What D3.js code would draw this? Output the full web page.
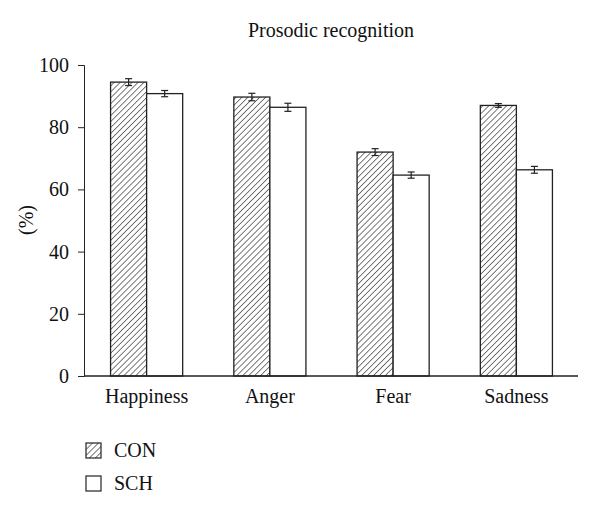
<!DOCTYPE html>
<html>
<head>
<meta charset="utf-8">
<script src="https://cdn.jsdelivr.net/npm/d3@7"></script>
<style>
  body { margin: 0; background: #fff; }
  text { font-family: "Liberation Serif", "DejaVu Serif", serif; fill: #111; }
</style>
</head>
<body>
<div id="chart"></div>
<script>
var width = 600;
var height = 515;

// data
var emotions = ['Happiness', 'Anger', 'Fear', 'Sadness'];
var groups = ['CON', 'SCH'];
var con_vals = [94.5, 89.7, 72.0, 87.0];
var sch_vals = [90.8, 86.4, 64.6, 66.3];
var con_err = [1.1, 1.2, 1.1, 0.6];
var sch_err = [1.0, 1.3, 1.0, 1.1];
var y_ticks = [0, 20, 40, 60, 80, 100];

var fs = 20;

var svg = d3.select('#chart').append('svg').attr('width', width).attr('height', height);

var defs = svg.append('defs');
var pat = defs.append('pattern').attr('id', 'hatch')
    .attr('patternUnits', 'userSpaceOnUse')
    .attr('width', 4.2).attr('height', 4.2)
    .attr('patternTransform', 'rotate(45)');
pat.append('rect').attr('width', 4.2).attr('height', 4.2).attr('fill', '#fff');
pat.append('line').attr('x1', 0).attr('y1', 0).attr('x2', 0).attr('y2', 4.2)
    .attr('stroke', '#222').attr('stroke-width', 1.2);

var x = d3.scaleBand().domain(emotions).range([85, 578]).paddingInner(0.415).paddingOuter(0.2075);
var xs = d3.scaleBand().domain(groups).range([0, x.bandwidth()]);
var y = d3.scaleLinear().domain([0, 100]).range([376, 65]);

var data = [];
for (var i = 0; i < emotions.length; i++) {
    data.push({emotion: emotions[i], group: 'CON', value: con_vals[i], err: con_err[i]});
    data.push({emotion: emotions[i], group: 'SCH', value: sch_vals[i], err: sch_err[i]});
}

// title
svg.append('text').attr('x', 331).attr('y', 37).attr('text-anchor', 'middle')
    .attr('font-size', fs).text('Prosodic recognition');

// y axis
var yAxis = d3.axisLeft(y).tickValues(y_ticks).tickSize(6).tickPadding(9);
var yg = svg.append('g').attr('transform', 'translate(84,0)').call(yAxis);
yg.select('.domain').attr('stroke', '#222');
yg.selectAll('.tick line').attr('stroke', '#222');
yg.selectAll('.tick text').attr('font-size', fs).attr('fill', '#111')
    .style('font-family', '"Liberation Serif", serif');

svg.append('text').attr('transform', 'translate(33,220) rotate(-90)')
    .attr('text-anchor', 'middle').attr('font-size', fs).text('(%)');

// bars
var bars = svg.append('g').selectAll('rect').data(data).enter().append('rect')
    .attr('x', function(d) { return x(d.emotion) + xs(d.group); })
    .attr('y', function(d) { return y(d.value); })
    .attr('width', xs.bandwidth())
    .attr('height', function(d) { return y(0) - y(d.value); })
    .attr('fill', function(d) { return d.group == 'CON' ? 'url(#hatch)' : '#fff'; })
    .attr('stroke', '#222')
    .attr('stroke-width', 1.3);

// error bars
var eg = svg.append('g').attr('stroke', '#222').attr('stroke-width', 1.2);
data.forEach(function(d) {
    var cx = x(d.emotion) + xs(d.group) + xs.bandwidth() / 2;
    var y1 = y(d.value + d.err), y2 = y(d.value - d.err);
    eg.append('line').attr('x1', cx).attr('x2', cx).attr('y1', y1).attr('y2', y2);
    eg.append('line').attr('x1', cx - 3.5).attr('x2', cx + 3.5).attr('y1', y1).attr('y2', y1);
    eg.append('line').attr('x1', cx - 3.5).attr('x2', cx + 3.5).attr('y1', y2).attr('y2', y2);
});

// x axis
svg.append('line').attr('x1', 84).attr('x2', 578).attr('y1', y(0)).attr('y2', y(0))
    .attr('stroke', '#222').attr('stroke-width', 1.3);
svg.append('g').selectAll('text').data(emotions).enter().append('text')
    .attr('x', function(d) { return x(d) + x.bandwidth() / 2; })
    .attr('y', 403)
    .attr('text-anchor', 'middle')
    .attr('font-size', fs)
    .text(function(d) { return d; });

// legend
var lg = svg.append('g').selectAll('g').data(groups).enter().append('g')
    .attr('transform', function(d, i) { return 'translate(86,' + (443 + i * 33) + ')'; });
lg.append('rect').attr('width', 15).attr('height', 15)
    .attr('fill', function(d) { return d == 'CON' ? 'url(#hatch)' : '#fff'; })
    .attr('stroke', '#222').attr('stroke-width', 1.2);
lg.append('text').attr('x', 28).attr('y', 14).attr('font-size', fs)
    .text(function(d) { return d; });
</script>
</body>
</html>
